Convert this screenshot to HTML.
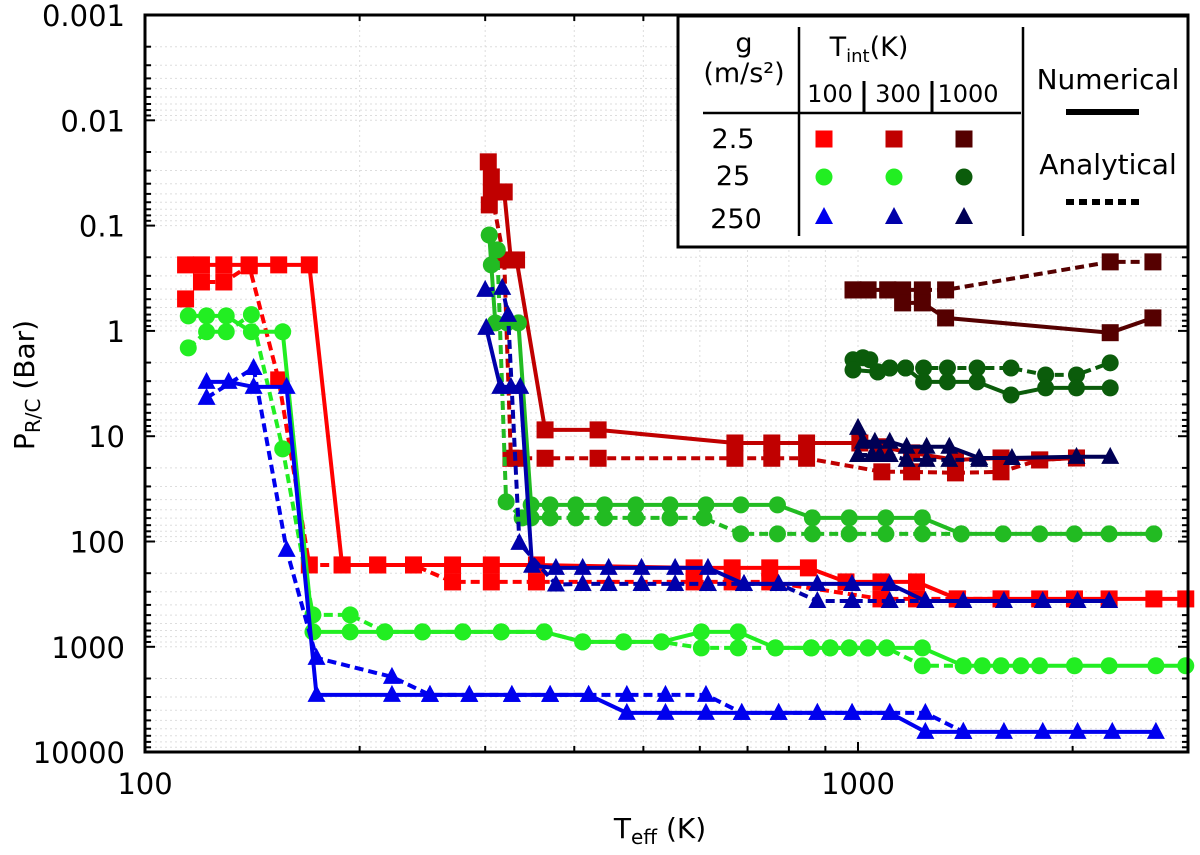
<!DOCTYPE html>
<html><head><meta charset="utf-8"><style>
html,body{margin:0;padding:0;background:#fff;}
svg{display:block;font-family:"DejaVu Sans","Liberation Sans",sans-serif;}
</style></head><body>
<svg id="chart" width="1200" height="855" viewBox="0 0 1200 855">
<g id="grid"></g>
<g id="axes"></g>
<g id="series"></g>
<rect x="145" y="15" width="1043" height="737" fill="none" stroke="#000" stroke-width="3"/>
<text x="660" y="838" font-size="28" text-anchor="middle">T<tspan font-size="20" dy="6">eff</tspan><tspan dy="-6"> (K)</tspan></text>
<text transform="translate(34,385) rotate(-90)" font-size="28" text-anchor="middle">P<tspan font-size="20" dy="6">R/C</tspan><tspan dy="-6"> (Bar)</tspan></text>
<g>
<rect x="678" y="16" width="510" height="231" fill="#fff" stroke="#000" stroke-width="3"/>
<line x1="799" y1="27" x2="799" y2="236" stroke="#000" stroke-width="2.5"/>
<line x1="1023" y1="27" x2="1023" y2="236" stroke="#000" stroke-width="2.5"/>
<line x1="703" y1="113" x2="1021" y2="113" stroke="#000" stroke-width="2.5"/>
<line x1="864" y1="81" x2="864" y2="112" stroke="#000" stroke-width="3"/>
<line x1="932" y1="81" x2="932" y2="112" stroke="#000" stroke-width="3"/>
<text x="744" y="52" font-size="27" text-anchor="middle">g</text>
<text x="744" y="82" font-size="27" text-anchor="middle">(m/s²)</text>
<text x="869" y="56" font-size="27" text-anchor="middle">T<tspan font-size="18" dy="6">int</tspan><tspan dy="-6">(K)</tspan></text>
<text x="830" y="102" font-size="24" text-anchor="middle">100</text>
<text x="898" y="102" font-size="24" text-anchor="middle">300</text>
<text x="968" y="102" font-size="24" text-anchor="middle">1000</text>
<text x="733" y="148" font-size="27" text-anchor="middle">2.5</text>
<text x="733" y="185" font-size="27" text-anchor="middle">25</text>
<text x="736" y="228" font-size="27" text-anchor="middle">250</text>
<text x="1108" y="89" font-size="28" text-anchor="middle">Numerical</text>
<line x1="1066" y1="112" x2="1139" y2="112" stroke="#000" stroke-width="6"/>
<text x="1108" y="174" font-size="28" text-anchor="middle">Analytical</text>
<line x1="1066" y1="202" x2="1139" y2="202" stroke="#000" stroke-width="6" stroke-dasharray="8,5"/>
<g id="legmarks"></g>
</g>
</svg>
<script>
// ---- data (Teff in K, P in bar) ----
const tR100n=[114,120,129,140,154,170,189,212,238,270,306,354,589,666,752,852,962,1077,1208,1378,1587,1798,2012,2250,2600,2882];
const pR100n=[0.236,0.236,0.236,0.236,0.236,0.236,167,167,167,167,167,167,178,178,178,178,242,242,242,351,351,351,351,351,351,351];
const tR100a=[114,120,129,140,154,170,189,212,238,270,306,354,589,666,752,1077,1208,1378,1587];
const pR100a=[0.497,0.343,0.343,0.241,2.92,167,167,167,167,242,242,242,242,242,242,351,351,351,351];
const tG100n=[115,122,130,141,156,172,194,217,245,279,316,363,411,469,530,603,679,766,860,914,972,1033,1097,1231,1405,1494,1587,1692,1798,2012,2250,2617,2882];
const pG100n=[0.72,0.72,0.72,1.02,1.02,722,722,722,722,722,722,722,898,898,898,722,722,1025,1025,1025,1025,1025,1025,1025,1513,1513,1513,1513,1513,1513,1513,1513,1513];
const tG100a=[115,122,130,141,156,172,194,217,245,279,316,363,411,469,530,603,679,766,860,914,972,1033,1097,1231,1405];
const pG100a=[1.45,1.02,1.02,0.70,13.2,498,498,722,722,722,722,722,898,898,898,1025,1025,1025,1025,1025,1025,1025,1025,1513,1513];
const tB100n=[122,131,142,158,174,222,251,285,327,370,419,474,537,612,687,774,877,981,1108,1243,1405,1602,1816,2032,2273,2617];
const pB100n=[3.05,3.05,3.40,3.40,2862,2862,2862,2862,2862,2862,2862,4247,4247,4247,4247,4247,4247,4247,4247,6430,6430,6430,6430,6430,6430,6430];
const tB100a=[122,142,158,174,222,251,285,327,370,419,474,537,612,687,774,877,981,1108,1243,1405];
const pB100a=[4.33,2.25,120,1274,1932,2862,2862,2862,2862,2862,2862,2862,2862,4247,4247,4247,4247,4247,4247,6430];
const tR300n=[303,304,306,319,326,332,364,432,672,757,847,1006,1080,1189,1370,1587,1798,2025];
const pR300n=[0.0248,0.0636,0.0345,0.0479,0.212,0.212,8.71,8.71,11.6,11.6,11.6,11.6,12.6,14.4,16.8,16.1,16.8,16.1];
const tR300a=[306,319,326,332,364,432,672,757,847,1080,1189,1370,1587,1798,2025];
const pR300a=[0.0479,0.212,16.2,16.2,16.2,16.2,16.2,16.2,16.2,21.8,21.8,22.3,21.8,16.8,16.1];
const tG300n=[304,306,310,322,334,348,370,402,441,488,545,612,685,771,863,972,1094,1231,1396,1597,1798,2012,2250,2600];
const pG300n=[0.123,0.236,0.84,0.84,0.84,44.9,44.9,44.9,44.9,44.9,44.9,44.9,44.9,44.9,59.7,59.7,59.7,59.7,84.7,84.7,84.7,84.7,84.7,84.7];
const tG300a=[304,312,321,338,348,370,402,441,488,545,608,685,771,863,972,1094,1231,1396];
const pG300a=[0.123,0.170,42,59.7,59.7,59.7,59.7,59.7,59.7,59.7,59.7,84.7,84.7,84.7,84.7,84.7,84.7,84.7];
const tB300n=[301,315,326,336,349,377,411,447,497,554,616,692,774,877,981,1108,1243,1405,1602,1816,2032,2250];
const pB300n=[0.937,3.40,3.40,3.40,170,178,178,178,178,178,178,253,253,253,253,253,367,367,367,367,367,367];
const tB300a=[300,317,323,335,377,411,447,497,554,616,692,774,877,981,1108,1243];
const pB300a=[0.408,0.39,0.705,103,256,253,253,253,253,253,253,253,367,367,367,367];
const tR1000n=[984,1033,1101,1155,1231,1327,2258,2592];
const pR1000n=[0.408,0.408,0.408,0.542,0.542,0.753,1.04,0.753];
const tR1000a=[984,1033,1101,1155,1231,1327,2258,2592];
const pR1000a=[0.408,0.408,0.408,0.408,0.408,0.408,0.221,0.221];
const tG1000n=[984,1066,1108,1166,1236,1335,1469,1639,1833,2025,2258];
const pG1000n=[2.35,2.45,2.25,2.25,3.05,3.05,3.05,4.06,3.48,3.48,3.48];
const tG1000a=[984,1016,1039,1066,1108,1166,1236,1335,1469,1639,1833,2025,2258];
const pG1000a=[1.88,1.80,1.88,2.45,2.25,2.25,2.25,2.25,2.25,2.25,2.62,2.62,2.01];
const tB1000n=[1000,1016,1056,1108,1170,1248,1343,1479,1644,2025,2258];
const pB1000n=[8.34,11.3,11.3,11.3,12.6,12.6,12.6,16.1,16.1,15.7,15.7];
const tB1000a=[1000,1046,1073,1108,1170,1248,1343,1479];
const pB1000a=[15.1,15.1,15.1,15.1,16.8,16.8,16.8,16.8];
const xTickLabels=["100","1000"];
const yTickLabels=["0.001","0.01","0.1","1","10","100","1000","10000"];

// ---- axes ----
const NS="http://www.w3.org/2000/svg";
function sx(t){return 145+713*Math.log10(t/100);}
function sy(p){return 15+105.3*(Math.log10(p)+3);}
function mk(tag,attrs,parent){const e=document.createElementNS(NS,tag);for(const k in attrs)e.setAttribute(k,attrs[k]);parent.appendChild(e);return e;}
const grid=document.getElementById('grid'),axes=document.getElementById('axes'),ser=document.getElementById('series');
for(let d=-3;d<4;d++){for(let m=1;m<10;m++){const y=sy(m*Math.pow(10,d));if(m>1||d>-3){const g=mk('line',{x1:145,x2:1188,y1:y,y2:y,stroke:'#ddd','stroke-width':1,'stroke-dasharray':'2,3'},grid);}
const len=m===1?10:6;mk('line',{x1:145,x2:145+len,y1:y,y2:y,stroke:'#000','stroke-width':2},axes);mk('line',{x1:1188-len,x2:1188,y1:y,y2:y,stroke:'#000','stroke-width':2},axes);}}
yTickLabels.forEach((s,i)=>{const t=mk('text',{x:125,y:sy(parseFloat(s))+11,'font-size':29,'text-anchor':'end'},axes);t.textContent=s;

});
for(let d=2;d<4;d++){for(let m=1;m<10;m++){const v=m*Math.pow(10,d);if(v>2950)break;const x=sx(v);if(v>100){const g=mk('line',{x1:x,x2:x,y1:15,y2:752,stroke:'#ddd','stroke-width':1,'stroke-dasharray':'2,3'},grid);}
const len=m===1?10:6;mk('line',{x1:x,x2:x,y1:752-len,y2:752,stroke:'#000','stroke-width':2},axes);mk('line',{x1:x,x2:x,y1:15,y2:15+len,stroke:'#000','stroke-width':2},axes);}}
xTickLabels.forEach(s=>{const t=mk('text',{x:sx(parseFloat(s)),y:794,'font-size':29,'text-anchor':'middle'},axes);t.textContent=s;

});

function marker(shape,x,y,col,parent){let e;
 if(shape==='sq')e=mk('rect',{x:x-8.5,y:y-8.5,width:17,height:17,fill:col},parent);
 else if(shape==='ci')e=mk('circle',{cx:x,cy:y,r:8.5,fill:col},parent);
 else e=mk('polygon',{points:`${x},${y-10} ${x+9},${y+7} ${x-9},${y+7}`,fill:col},parent);
 return e;}
const series=[
 ['red-100-analytical',tR100a,pR100a,'#ff0000','sq',true],['red-100-numerical',tR100n,pR100n,'#ff0000','sq',false],
 ['green-100-analytical',tG100a,pG100a,'#22ee22','ci',true],['green-100-numerical',tG100n,pG100n,'#22ee22','ci',false],
 ['blue-100-analytical',tB100a,pB100a,'#0000ee','tr',true],['blue-100-numerical',tB100n,pB100n,'#0000ee','tr',false],
 ['red-300-analytical',tR300a,pR300a,'#c00000','sq',true],['red-300-numerical',tR300n,pR300n,'#c00000','sq',false],
 ['green-300-analytical',tG300a,pG300a,'#22bb22','ci',true],['green-300-numerical',tG300n,pG300n,'#22bb22','ci',false],
 ['blue-300-analytical',tB300a,pB300a,'#0000aa','tr',true],['blue-300-numerical',tB300n,pB300n,'#0000aa','tr',false],
 ['red-1000-analytical',tR1000a,pR1000a,'#550000','sq',true],['red-1000-numerical',tR1000n,pR1000n,'#550000','sq',false],
 ['green-1000-analytical',tG1000a,pG1000a,'#0b5c0b','ci',true],['green-1000-numerical',tG1000n,pG1000n,'#0b5c0b','ci',false],
 ['blue-1000-analytical',tB1000a,pB1000a,'#000055','tr',true],['blue-1000-numerical',tB1000n,pB1000n,'#000055','tr',false]];
series.forEach(s=>{const g=mk('g',{},ser);
 
 
 const pts=s[1].map((t,i)=>sx(t).toFixed(1)+','+sy(s[2][i]).toFixed(1)).join(' ');
 const pl=mk('polyline',{points:pts,fill:'none',stroke:s[3],'stroke-width':4,'stroke-linejoin':'round'},g);
 if(s[5])pl.setAttribute('stroke-dasharray','9,5');
 
 
 s[1].forEach((t,i)=>{const m=marker(s[4],sx(t),sy(s[2][i]),s[3],g);
  
  });});
const lm=document.getElementById('legmarks');
const legCols=[824,894,964],legRows=[139,177,217];
const legColors=[['#ff0000','#c00000','#550000'],['#22ee22','#22ee22','#0b5c0b'],['#0000ee','#0000aa','#000055']];
const legShapes=['sq','ci','tr'];
legRows.forEach((y,r)=>legCols.forEach((x,c)=>{const m=marker(legShapes[r],x,y,legColors[r][c],lm);
 
 }));
</script>
</body></html>
